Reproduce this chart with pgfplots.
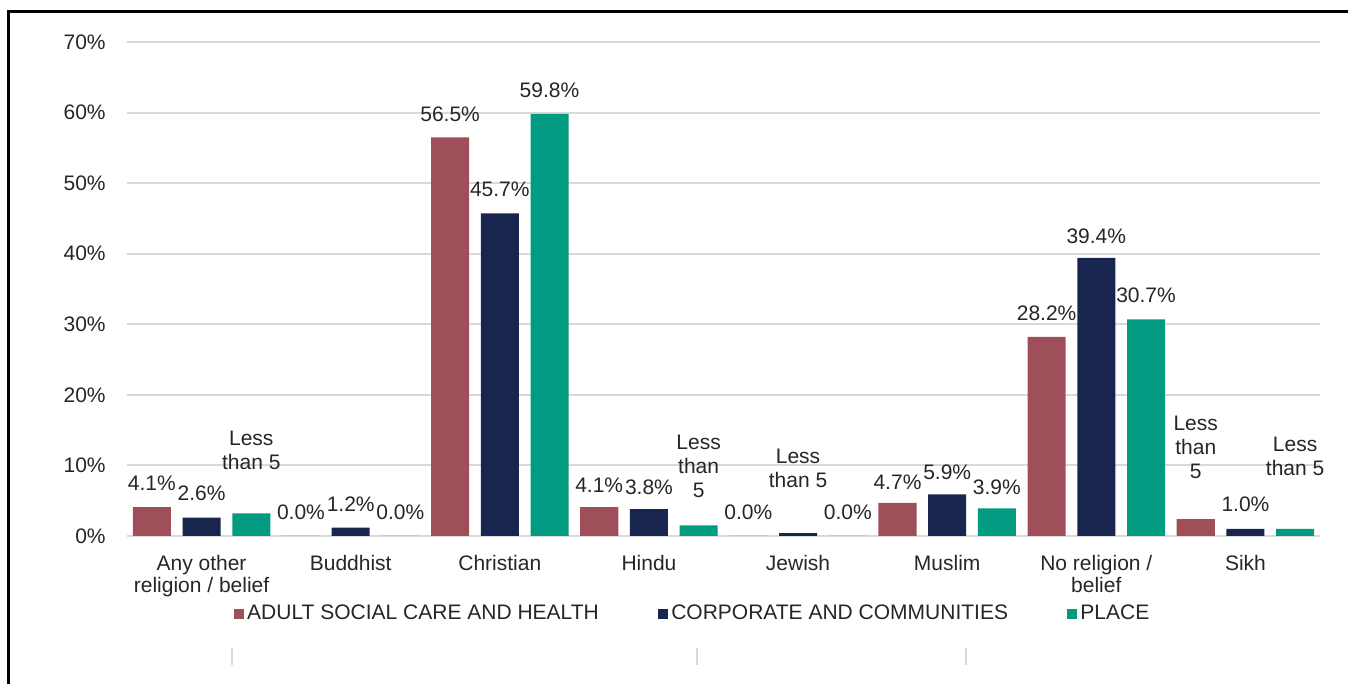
\documentclass[border=0pt]{standalone}
\usepackage{pgfplots}
\pgfplotsset{compat=1.18}
\usepackage{fontspec}
\setmainfont{Liberation Sans}
\definecolor{asc}{HTML}{9E4F5A}
\definecolor{corp}{HTML}{18264F}
\definecolor{place}{HTML}{009B80}
\definecolor{gridc}{HTML}{D9D9D9}
\definecolor{txt}{HTML}{262626}
\newcommand{\lf}{\fontsize{10.5}{12}\selectfont}
\newcommand{\xf}{\fontsize{10.5}{11.2}\selectfont}
\begin{document}
\begin{tikzpicture}[x=0.5pt,y=0.5pt]
\useasboundingbox (0,0) rectangle (1348,684);
\draw[line width=1.5pt] (8,-10) -- (8,672) -- (1360,672);
\foreach \xx in {232,697,966} \draw[gridc,line width=1pt] (\xx,36) -- (\xx,19);
\begin{axis}[
  at={(63.5pt,74pt)}, anchor=south west,
  scale only axis, width=596.5pt, height=247pt,
  xmin=-0.5, xmax=7.5, ymin=0, ymax=70,
  ytick={0,10,...,70},
  /pgf/number format/assume math mode=true,
  yticklabel={\pgfmathprintnumber{\tick}\%},
  ymajorgrids, grid style={gridc, line width=1pt},
  axis x line=bottom, axis y line=left,
  y axis line style={draw=none},
  x axis line style={gridc, line width=1pt, -},
  ytick style={draw=none},
  xtick={0,...,7},
  xtick style={draw=none},
  xticklabels={{Any other\\religion / belief},Buddhist,Christian,Hindu,Jewish,Muslim,{No religion /\\belief},Sikh},
  xticklabel style={align=center, font=\xf, text=txt, yshift=-4pt},
  yticklabel style={font=\lf, text=txt, xshift=-5pt},
  extra x ticks={-0.5,0.5,...,7.5},
  extra x tick labels={},
  extra x tick style={grid=none, major tick length=4pt, tick align=outside, tick style={draw=gridc, line width=1pt}},
  clip=false,
  legend columns=3,
  legend style={at={(0.4745,-0.1578)}, anchor=center, draw=none, font=\lf, text=txt,
    /tikz/every even column/.append style={column sep=28pt}, nodes={inner sep=1.5pt}},
  legend image code/.code={\fill[#1,draw=none] (0pt,-2.6pt) rectangle (5.2pt,2.6pt);},
]
\addplot[ybar, fill=asc, draw=none, bar width=0.255, bar shift=-0.3333]
  coordinates {(0,4.1)(1,0)(2,56.5)(3,4.1)(4,0)(5,4.7)(6,28.2)(7,2.4)};
\addlegendentry{ADULT SOCIAL CARE AND HEALTH}
\addplot[ybar, fill=corp, draw=none, bar width=0.255, bar shift=0]
  coordinates {(0,2.6)(1,1.2)(2,45.7)(3,3.8)(4,0.4)(5,5.9)(6,39.4)(7,1.0)};
\addlegendentry{CORPORATE AND COMMUNITIES}
\addplot[ybar, fill=place, draw=none, bar width=0.255, bar shift=0.3333]
  coordinates {(0,3.2)(1,0)(2,59.8)(3,1.5)(4,0)(5,3.9)(6,30.7)(7,1.0)};
\addlegendentry{PLACE}
% value labels
\begin{scope}[every node/.style={font=\lf, text=txt, align=center}]
\node at (axis cs:-0.3333,7.5) {4.1\%};
\node at (axis cs:0,6.0) {2.6\%};
\node at (axis cs:0.3333,12.2) {Less\\than 5};
\node at (axis cs:0.6667,3.3) {0.0\%};
\node at (axis cs:1,4.5) {1.2\%};
\node at (axis cs:1.3333,3.3) {0.0\%};
\node at (axis cs:1.6667,59.8) {56.5\%};
\node at (axis cs:2,49.1) {45.7\%};
\node at (axis cs:2.3333,63.1) {59.8\%};
\node at (axis cs:2.6667,7.2) {4.1\%};
\node at (axis cs:3,6.9) {3.8\%};
\node at (axis cs:3.3333,9.8) {Less\\than\\5};
\node at (axis cs:3.6667,3.3) {0.0\%};
\node at (axis cs:4,9.6) {Less\\than 5};
\node at (axis cs:4.3333,3.3) {0.0\%};
\node at (axis cs:4.6667,7.6) {4.7\%};
\node at (axis cs:5,9.0) {5.9\%};
\node at (axis cs:5.3333,6.9) {3.9\%};
\node at (axis cs:5.6667,31.5) {28.2\%};
\node at (axis cs:6,42.5) {39.4\%};
\node at (axis cs:6.3333,34.1) {30.7\%};
\node at (axis cs:6.6667,12.6) {Less\\than\\5};
\node at (axis cs:7,4.5) {1.0\%};
\node at (axis cs:7.3333,11.3) {Less\\than 5};
\end{scope}
\end{axis}
\end{tikzpicture}
\end{document}
